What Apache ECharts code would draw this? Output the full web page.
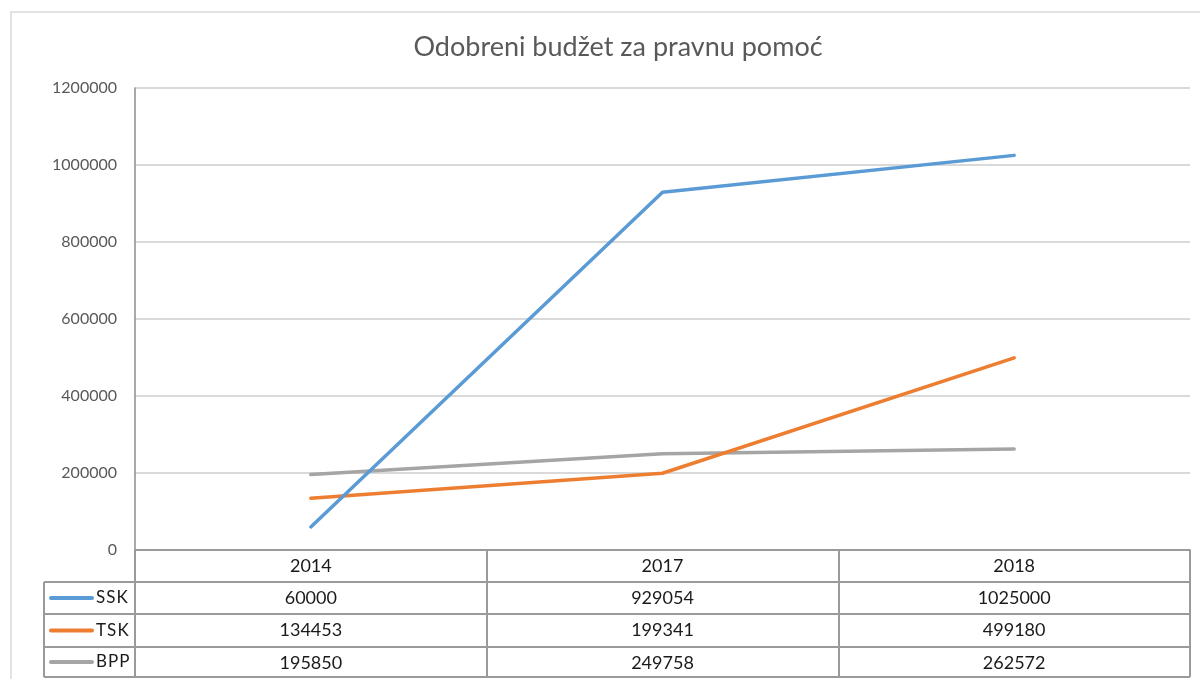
<!DOCTYPE html>
<html>
<head>
<meta charset="utf-8">
<title>Odobreni budžet za pravnu pomoć</title>
<script src="https://cdn.jsdelivr.net/npm/echarts@6/dist/echarts.min.js"></script>
<style>
    html, body {
        margin: 0;
        padding: 0;
        background: #fff;
    }
    #chart {
        width: 1200px;
        height: 679px;
    }
</style>
</head>
<body>
<div id="chart"></div>
<script>
const years = ['2014', '2017', '2018']
const seriesNames = ['SSK', 'TSK', 'BPP']
const ssk = [60000, 929054, 1025000]
const tsk = [134453, 199341, 499180]
const bpp = [195850, 249758, 262572]
const yTicks = [0, 200000, 400000, 600000, 800000, 1000000, 1200000]

const colors = ['#5B9BD5', '#ED7D31', '#A5A5A5']
const values = [ssk, tsk, bpp]
const font = 'Lato, "Liberation Sans", sans-serif'
const tableColor = '#9a9a9a'

// row borders of the data table under the plot (pixels)
const rowLines = [582, 614, 647, 677]
const legendLeft = 44
const plotRight = 1190

const chart = echarts.init(document.getElementById('chart'))

const tableGraphics = []
rowLines.forEach(y => {
    tableGraphics.push({
        type: 'line',
        shape: {x1: legendLeft, y1: y, x2: plotRight, y2: y},
        style: {stroke: tableColor, lineWidth: 2},
        silent: true
    })
})
tableGraphics.push({
    type: 'line',
    shape: {x1: legendLeft, y1: rowLines[0], x2: legendLeft, y2: rowLines[rowLines.length - 1]},
    style: {stroke: tableColor, lineWidth: 2},
    silent: true
})
seriesNames.forEach((name, i) => {
    const cy = (rowLines[i] + rowLines[i + 1]) / 2
    tableGraphics.push({
        type: 'line',
        shape: {x1: 51, y1: cy, x2: 92, y2: cy},
        style: {stroke: colors[i], lineWidth: 4, lineCap: 'round'},
        silent: true
    })
    tableGraphics.push({
        type: 'text',
        x: 96,
        y: cy,
        style: {
            text: name.split('').join('\u200a'),
            font: '17px ' + font,
            fill: '#1a1a1a',
            verticalAlign: 'middle'
        },
        silent: true
    })
})

chart.setOption({
    backgroundColor: '#fff',
    animation: false,
    title: {
        text: 'Odobreni budžet za pravnu pomoć',
        left: 613,
        textAlign: 'center',
        top: 29,
        textStyle: {
            fontFamily: font,
            fontSize: 27,
            fontWeight: 'normal',
            color: '#595959'
        }
    },
    grid: {
        left: 135,
        right: 1200 - plotRight,
        top: 88,
        bottom: 679 - 550
    },
    graphic: [
        {
            type: 'rect',
            shape: {x: 11, y: 12, width: 1200, height: 700},
            style: {fill: 'none', stroke: '#d9d9d9', lineWidth: 1.5},
            silent: true,
            z: -10
        },
        ...tableGraphics
    ],
    xAxis: {
        type: 'category',
        data: years,
        boundaryGap: true,
        axisLine: {
            lineStyle: {color: tableColor, width: 2}
        },
        axisTick: {
            show: true,
            interval: 0,
            length: 677 - 550,
            lineStyle: {color: tableColor, width: 2}
        },
        axisLabel: {
            margin: 0,
            interval: 0,
            verticalAlign: 'top',
            formatter: (val, idx) => {
                const rows = values.map(v => '{v|' + v[idx] + '}')
                return ['{h|' + val + '}'].concat(rows).join('\n')
            },
            rich: {
                h: {fontFamily: font, fontSize: 18, color: '#1a1a1a', lineHeight: 32},
                v: {fontFamily: font, fontSize: 18, color: '#1a1a1a', lineHeight: 32.3}
            }
        },
        splitLine: {show: false}
    },
    yAxis: {
        type: 'value',
        min: yTicks[0],
        max: yTicks[yTicks.length - 1],
        interval: yTicks[1] - yTicks[0],
        axisLine: {
            show: true,
            lineStyle: {color: '#8c8c8c', width: 1.5}
        },
        axisTick: {show: false},
        axisLabel: {
            margin: 18,
            fontFamily: font,
            fontSize: 16,
            color: '#595959',
            formatter: v => String(v)
        },
        splitLine: {
            lineStyle: {color: '#d9d9d9', width: 2}
        }
    },
    series: seriesNames.map((name, i) => ({
        name: name,
        type: 'line',
        data: values[i],
        showSymbol: false,
        symbol: 'none',
        lineStyle: {color: colors[i], width: 3.5, cap: 'round'},
        itemStyle: {color: colors[i]},
        z: 3 - i
    }))
})
</script>
</body>
</html>
